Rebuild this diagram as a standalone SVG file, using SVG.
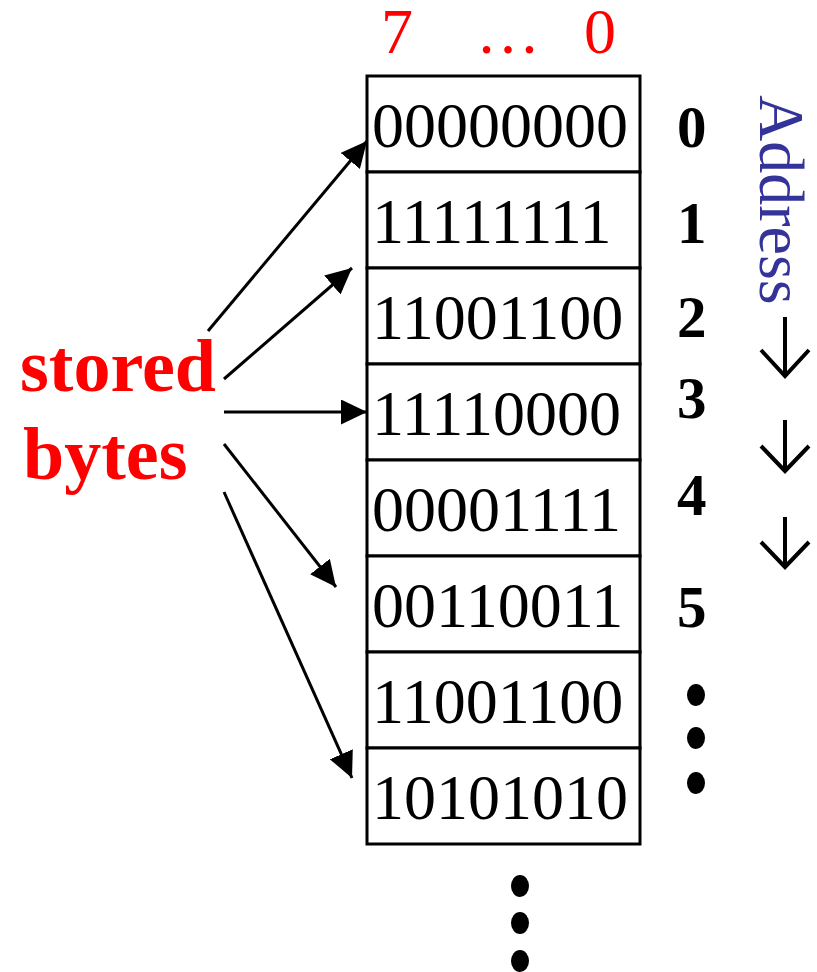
<svg xmlns="http://www.w3.org/2000/svg" width="817" height="972" viewBox="0 0 817 972">
<style>
.bits{font-family:"Liberation Serif","Times New Roman",serif;font-size:64px;fill:#000}
.hdr{font-family:"Liberation Serif","Times New Roman",serif;font-size:64px;fill:#ff0000}
.addr{font-family:"Liberation Serif","Times New Roman",serif;font-size:59px;font-weight:bold;fill:#000}
.lbl{font-family:"Liberation Serif","Times New Roman",serif;font-size:74px;font-weight:bold;fill:#ff0000}
.cell{fill:#fff;stroke:#000;stroke-width:3}
.conn{stroke:#000;stroke-width:3;fill:none}
.down{stroke:#000;stroke-width:4;fill:none;stroke-linecap:butt;stroke-linejoin:miter}
</style>
<defs>
<marker id="ah" viewBox="0 0 26 25" refX="26" refY="12.5" markerWidth="26" markerHeight="25" markerUnits="userSpaceOnUse" orient="auto">
<path d="M0,0 L26,12.5 L0,25 z" fill="#000"/>
</marker>
</defs>
<rect width="817" height="972" fill="#fff"/>

<g id="header">
<text class="hdr" x="381" y="53">7</text>
<text class="hdr" x="476" y="53">…</text>
<text class="hdr" x="584" y="53">0</text>
</g>

<g id="memory">
<g id="cell0"><rect class="cell" x="367" y="76" width="273" height="96"/><text class="bits" x="372" y="147">00000000</text></g>
<g id="cell1"><rect class="cell" x="367" y="172" width="273" height="96"/><text class="bits" x="372" y="243">11111111</text></g>
<g id="cell2"><rect class="cell" x="367" y="268" width="273" height="96"/><text class="bits" x="372" y="339">11001100</text></g>
<g id="cell3"><rect class="cell" x="367" y="364" width="273" height="96"/><text class="bits" x="372" y="435">11110000</text></g>
<g id="cell4"><rect class="cell" x="367" y="460" width="273" height="96"/><text class="bits" x="372" y="531">00001111</text></g>
<g id="cell5"><rect class="cell" x="367" y="556" width="273" height="96"/><text class="bits" x="372" y="627">00110011</text></g>
<g id="cell6"><rect class="cell" x="367" y="652" width="273" height="96"/><text class="bits" x="372" y="723">11001100</text></g>
<g id="cell7"><rect class="cell" x="367" y="748" width="273" height="96"/><text class="bits" x="372" y="819">10101010</text></g>
</g>

<g id="addresses">
<text class="addr" x="677" y="147">0</text>
<text class="addr" x="677" y="243">1</text>
<text class="addr" x="677" y="337">2</text>
<text class="addr" x="677" y="418">3</text>
<text class="addr" x="677" y="515">4</text>
<text class="addr" x="677" y="627">5</text>
<ellipse cx="696" cy="695" rx="9" ry="11"/>
<ellipse cx="696" cy="738" rx="9" ry="11"/>
<ellipse cx="696" cy="783" rx="9" ry="11"/>
</g>

<g id="address-label">
<text transform="translate(760,95) rotate(90)" style="font-family:'Liberation Serif','Times New Roman',serif;font-size:64px;fill:#333399">Address</text>
<path class="down" d="M785,317 V377 M761,350 L785,376 L809,350"/>
<path class="down" d="M785,420 V472 M761,446 L785,471 L809,446"/>
<path class="down" d="M785,517 V568 M761,542 L785,567 L809,542"/>
</g>

<g id="more">
<ellipse cx="520" cy="886" rx="9" ry="11"/>
<ellipse cx="520" cy="923" rx="9" ry="11"/>
<ellipse cx="520" cy="961" rx="9" ry="11"/>
</g>

<g id="stored-bytes">
<text class="lbl" x="20" y="391">stored</text>
<text class="lbl" x="23" y="479">bytes</text>
</g>

<g id="connectors">
<line class="conn" x1="208" y1="331" x2="367" y2="141" marker-end="url(#ah)"/>
<line class="conn" x1="224" y1="379" x2="352" y2="268" marker-end="url(#ah)"/>
<line class="conn" x1="224" y1="412" x2="367" y2="412" marker-end="url(#ah)"/>
<line class="conn" x1="224" y1="444" x2="336" y2="587" marker-end="url(#ah)"/>
<line class="conn" x1="224" y1="492" x2="352" y2="778" marker-end="url(#ah)"/>
</g>
</svg>
